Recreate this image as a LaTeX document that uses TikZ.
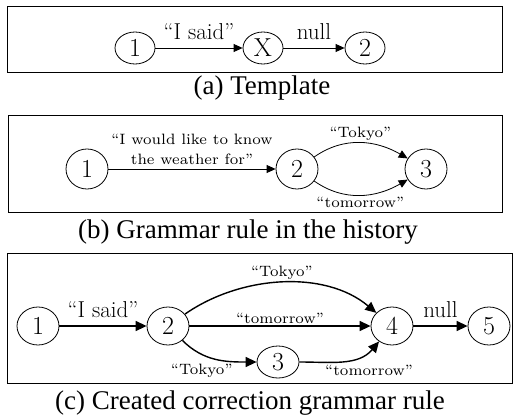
\documentclass[tikz,border=0pt]{standalone}
\usepackage{fontspec}
\newfontfamily\capfont{Liberation Serif}
\newfontfamily\lblfont[Ligatures=TeX]{lmroman7-regular.otf}
\usepackage{tikz}
\usetikzlibrary{positioning, shapes, arrows.meta}

\begin{document}
\begin{tikzpicture}[x=1pt, y=-1pt]
  \tikzstyle{state}=[ellipse, draw, line width=0.8pt, inner sep=0pt,
  minimum width=40pt, minimum height=32pt, font=\fontsize{26}{28}\selectfont]
  \tikzstyle{bigstate}=[state, minimum width=42pt, minimum height=40pt]
  \tikzstyle{frame}=[draw, line width=1pt]
  \tikzstyle{edge}=[line width=0.8pt, -{Triangle[length=9pt, width=8pt]}]
  \tikzstyle{boldedge}=[line width=1.4pt, -{Triangle[length=11pt, width=10pt]}]
  \tikzstyle{biglbl}=[font=\fontsize{23}{25}\selectfont, inner sep=1pt, yshift=7pt]
  \tikzstyle{lbl}=[font=\lblfont\fontsize{15}{20}\selectfont, inner sep=2pt, align=center]
  \tikzstyle{caption}=[font=\capfont\fontsize{27}{30}\selectfont]

  \useasboundingbox (0,0) rectangle (513,417);

  % (a) template
  \node (boxa) [frame, minimum width=495pt, minimum height=66pt] at (254.5,40) {};
  \node (a1) at (135,48) [state] {1};
  \node (ax) at (263,48) [state] {X};
  \node (a2) at (365,48) [state] {2};
  \draw [edge] (a1) -- node[biglbl, above] {``I said''} (ax);
  \draw [edge] (ax) -- node[biglbl, above] {null} (a2);
  \node (capa) at (262,88) [caption] {(a) Template};

  % (b) history
  \node (boxb) [frame, minimum width=494pt, minimum height=97pt] at (255,163.5) {};
  \node (b1) at (87,169) [bigstate] {1};
  \node (b2) at (297,169) [bigstate] {2};
  \node (b3) at (426,169) [bigstate] {3};
  \draw [edge] (b1) -- node[lbl, above, yshift=2pt] {``I would like to know\\the weather for''} (b2);
  \draw [edge] (b2) to[out=35, in=150] node[lbl, above] {``Tokyo''} (b3);
  \draw [edge] (b2) to[out=-35, in=-150] node[lbl, below] {``tomorrow''} (b3);
  \node (capb) at (248,232) [caption] {(b) Grammar rule in the history};

  % (c) correction
  \node (boxc) [frame, minimum width=505pt, minimum height=130pt] at (259.5,318) {};
  \node (c1) at (38,326) [bigstate, minimum height=38pt] {1};
  \node (c2) at (168,326) [bigstate, minimum height=38pt] {2};
  \node (c3) at (278,362) [bigstate, minimum height=32pt] {3};
  \node (c4) at (392,326) [bigstate, minimum height=38pt] {4};
  \node (c5) at (489,326) [bigstate, minimum height=38pt] {5};
  \draw [boldedge] (c1) -- node[biglbl, above] {``I said''} (c2);
  \draw [boldedge] (c2) to[out=35, in=140, looseness=0.9] node[lbl, above] {``Tokyo''} (c4);
  \draw [boldedge] (c2) -- node[lbl, above] {``tomorrow''} (c4);
  \draw [boldedge] (c2) to[out=-45, in=180] node[lbl, below left, pos=0.75] {``Tokyo''} (c3);
  \draw [boldedge] (c3) to[out=0, in=-130] node[lbl, below right, pos=0.25] {``tomorrow''} (c4);
  \draw [boldedge] (c4) -- node[biglbl, above] {null} (c5);
  \node (capc) at (250,403) [caption] {(c) Created correction grammar rule};

\end{tikzpicture}
\end{document}
